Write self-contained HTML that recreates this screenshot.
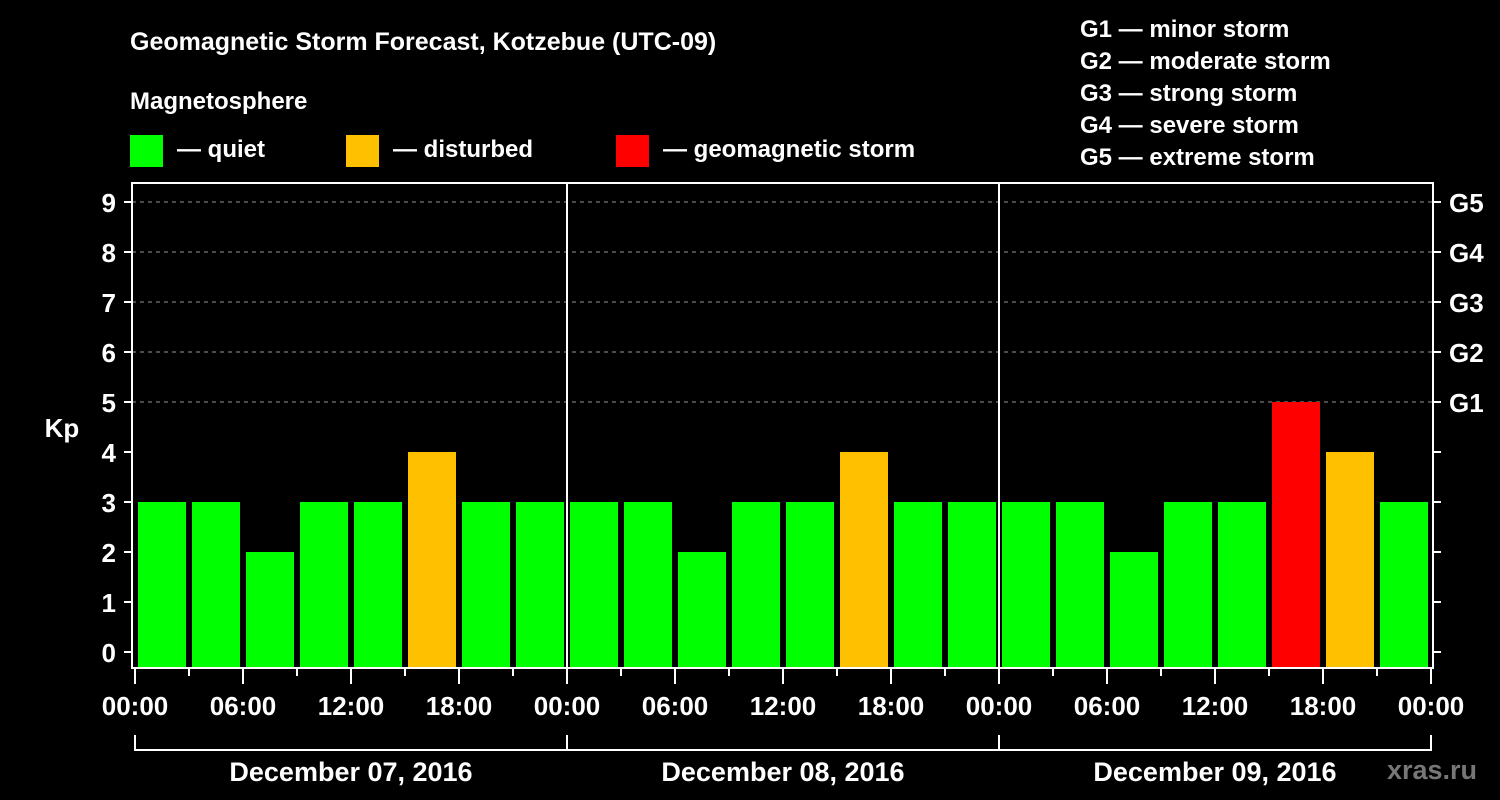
<!DOCTYPE html>
<html><head><meta charset="utf-8"><style>
body{margin:0;background:#000;}
svg{display:block;}
svg text{font-family:"Liberation Sans",Arial,sans-serif;font-weight:bold;}
</style></head><body>
<svg id="chart" width="1500" height="800" viewBox="0 0 1500 800" font-family="Liberation Sans, Arial, sans-serif" font-weight="bold">
<rect width="1500" height="800" fill="#000"/>
<text x="130" y="50" fill="#fff" font-size="25">Geomagnetic Storm Forecast, Kotzebue (UTC-09)</text>
<text x="130" y="109" fill="#fff" font-size="24">Magnetosphere</text>
<g><rect x="130" y="135" width="33" height="32" fill="#00ff00"/><text x="177" y="157" fill="#fff" font-size="24">— quiet</text></g>
<g><rect x="346" y="135" width="33" height="32" fill="#ffc000"/><text x="393" y="157" fill="#fff" font-size="24">— disturbed</text></g>
<g><rect x="616" y="135" width="33" height="32" fill="#ff0000"/><text x="663" y="157" fill="#fff" font-size="24">— geomagnetic storm</text></g>
<g fill="#fff" font-size="24">
<text x="1080" y="37">G1 — minor storm</text>
<text x="1080" y="69">G2 — moderate storm</text>
<text x="1080" y="101">G3 — strong storm</text>
<text x="1080" y="133">G4 — severe storm</text>
<text x="1080" y="165">G5 — extreme storm</text>
</g>
<text x="62" y="437" fill="#fff" font-size="26" text-anchor="middle">Kp</text>
<text x="1432" y="779" fill="#777" font-size="27" text-anchor="middle">xras.ru</text>
<g id="grid"></g><g id="bars"></g><g id="axes"></g>
</svg>
<script>
const values = [3,3,2,3,3,4,3,3, 3,3,2,3,3,4,3,3, 3,3,2,3,3,5,4,3];
const days = ["December 07, 2016","December 08, 2016","December 09, 2016"];
const yTicks = [0,1,2,3,4,5,6,7,8,9];
const gLabels = ["G1","G2","G3","G4","G5"];
const xLabels = ["00:00","06:00","12:00","18:00"];
const NS="http://www.w3.org/2000/svg";
const x0=135, pxHour=18, y0=652, pxUnit=50, plotBottom=668, plotTop=183, plotRight=1433, plotLeft=132;
const X=h=>x0+h*pxHour, Y=v=>y0-v*pxUnit;
function mk(tag,at,parent){const e=document.createElementNS(NS,tag);for(const k in at)e.setAttribute(k,at[k]);parent.appendChild(e);return e;}
const grid=document.getElementById('grid'),bars=document.getElementById('bars'),axes=document.getElementById('axes');
gLabels.forEach((g,i)=>{const v=5+i;
 const l=mk('line',{x1:plotLeft,x2:plotRight,y1:Y(v),y2:Y(v),stroke:'#999','stroke-dasharray':'4,4','stroke-width':1},grid);
 
 
 const t=mk('text',{x:1449,y:Y(v)+10,fill:'#fff','font-size':26},axes);t.textContent=g;
 
 
});
values.forEach((v,i)=>{
 const c=v>=5?'#ff0000':v>=4?'#ffc000':'#00ff00';
 const r=mk('rect',{x:X(i*3)+3,y:Y(v),width:3*pxHour-6,height:plotBottom-Y(v),fill:c},bars);
 
 
});
mk('rect',{x:plotLeft,y:plotTop,width:plotRight-plotLeft,height:plotBottom-plotTop,fill:'none',stroke:'#fff','stroke-width':2},axes);
for(let d=1;d<days.length;d++){mk('line',{x1:X(d*24),x2:X(d*24),y1:plotTop,y2:plotBottom,stroke:'#fff','stroke-width':2},axes);}
yTicks.forEach(v=>{
 mk('line',{x1:plotLeft-8,x2:plotLeft,y1:Y(v),y2:Y(v),stroke:'#fff','stroke-width':2},axes);
 mk('line',{x1:plotRight,x2:plotRight+8,y1:Y(v),y2:Y(v),stroke:'#fff','stroke-width':2},axes);
 const t=mk('text',{x:116,y:Y(v)+10,fill:'#fff','font-size':26,'text-anchor':'end'},axes);t.textContent=v;
 
 
});
for(let h=0;h<=72;h+=3){
 const long=h%6===0;
 mk('line',{x1:X(h),x2:X(h),y1:plotBottom,y2:plotBottom+(long?16:8),stroke:'#fff','stroke-width':2},axes);
 if(long){const t=mk('text',{x:X(h),y:715,fill:'#fff','font-size':26,'text-anchor':'middle'},axes);t.textContent=xLabels[(h/6)%4];
  
  }
}
days.forEach((d,i)=>{
 const a=X(i*24),b=X(i*24+24);
 mk('path',{d:`M${a} 735V750H${b}`+(i===days.length-1?`V735`:''),fill:'none',stroke:'#fff','stroke-width':2},axes);
 if(i>0)mk('line',{x1:a,x2:a,y1:735,y2:750,stroke:'#fff','stroke-width':2},axes);
 const t=mk('text',{x:(a+b)/2,y:781,fill:'#fff','font-size':27,'text-anchor':'middle'},axes);t.textContent=d;
 
 
});
</script>
</body></html>
